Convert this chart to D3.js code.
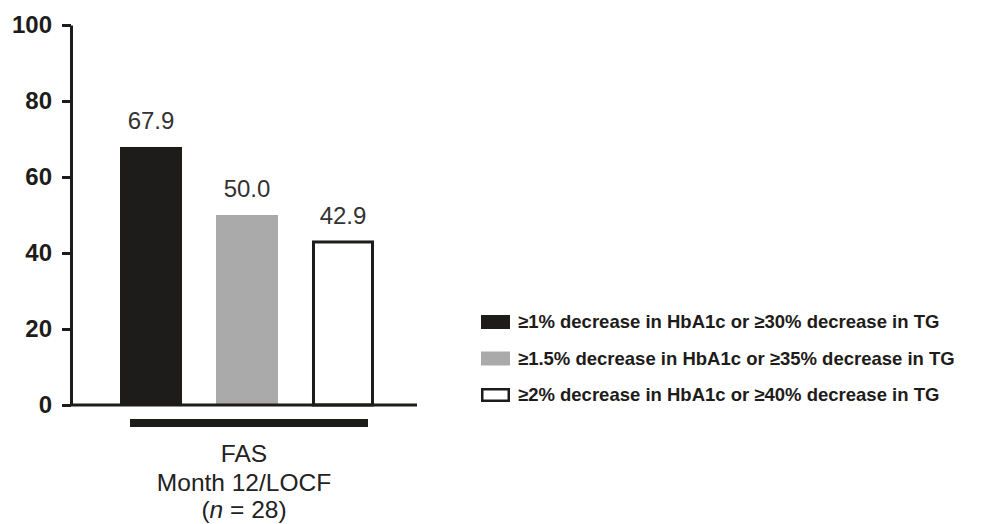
<!DOCTYPE html>
<html>

<head>
  <title>Responders</title>
  <script src="https://cdn.jsdelivr.net/npm/d3@7"></script>
  <style>
    body { margin: 0; background: #fff; }
  </style>
</head>

<body>
  <svg width="987" height="524" id="mainsvg"></svg>
  <script>
    // data
    const series = [
      '\u22651% decrease in HbA1c or \u226530% decrease in TG',
      '\u22651.5% decrease in HbA1c or \u226535% decrease in TG',
      '\u22652% decrease in HbA1c or \u226540% decrease in TG'
    ];
    const values = [67.9, 50.0, 42.9];
    const valueLabels = ['67.9', '50.0', '42.9'];
    const groupLines = ['FAS', 'Month 12/LOCF', '(n = 28)'];
    const yTicks = [0, 20, 40, 60, 80, 100];

    const fills = ['#1e1c1a', '#aaaaaa', '#ffffff'];
    const strokes = ['none', 'none', '#1e1c1a'];

    const svg = d3.select('#mainsvg');
    const font = '"Liberation Sans", Arial, sans-serif';

    const y = d3.scaleLinear().domain([0, 100]).range([405, 25]);
    const x = d3.scaleBand().domain(series).range([104, 390]).paddingInner(0.354).paddingOuter(0.1667);

    // y axis
    const yAxis = svg.append('g')
      .attr('transform', 'translate(71,0)')
      .call(d3.axisLeft(y).tickValues(yTicks).tickSize(9).tickPadding(10).tickSizeOuter(0));
    yAxis.select('.domain').attr('stroke', '#1e1c1a').attr('stroke-width', 3);
    yAxis.selectAll('.tick line').attr('stroke', '#1e1c1a').attr('stroke-width', 3);
    yAxis.selectAll('.tick text')
      .attr('font-family', font).attr('font-size', 24).attr('font-weight', 'bold')
      .attr('fill', '#1e1c1a');

    // bars
    svg.selectAll('.bar')
      .data(values)
      .join('rect')
      .attr('class', 'bar')
      .attr('x', (d, i) => x(series[i]) + (strokes[i] === 'none' ? 0 : 1.5))
      .attr('width', (d, i) => x.bandwidth() - (strokes[i] === 'none' ? 0 : 3))
      .attr('y', d => y(d))
      .attr('height', d => y(0) - y(d))
      .attr('fill', (d, i) => fills[i])
      .attr('stroke', (d, i) => strokes[i])
      .attr('stroke-width', 3);

    // x axis line
    svg.append('line')
      .attr('x1', 70).attr('x2', 417)
      .attr('y1', y(0)).attr('y2', y(0))
      .attr('stroke', '#1e1c1a').attr('stroke-width', 3);

    // value labels
    svg.selectAll('.val')
      .data(values)
      .join('text')
      .attr('class', 'val')
      .attr('x', (d, i) => x(series[i]) + x.bandwidth() / 2)
      .attr('y', d => y(d) - 18)
      .attr('text-anchor', 'middle')
      .attr('font-family', font).attr('font-size', 24)
      .attr('fill', '#333')
      .text((d, i) => valueLabels[i]);

    // group bracket
    svg.append('rect')
      .attr('x', 130).attr('y', 419)
      .attr('width', 238).attr('height', 8)
      .attr('fill', '#1e1c1a');

    const grp = svg.append('text')
      .attr('text-anchor', 'middle')
      .attr('font-family', font).attr('font-size', 24.5)
      .attr('fill', '#222');
    grp.append('tspan').attr('x', 244).attr('y', 462).text(groupLines[0]);
    grp.append('tspan').attr('x', 244).attr('y', 491).text(groupLines[1]);
    const last = grp.append('tspan').attr('x', 244).attr('y', 518);
    last.append('tspan').text('(');
    last.append('tspan').attr('font-style', 'italic').text('n');
    last.append('tspan').text(groupLines[2].slice(2));

    // legend
    const legend = svg.selectAll('.leg')
      .data(series)
      .join('g')
      .attr('class', 'leg')
      .attr('transform', (d, i) => `translate(481, ${322 + i * 36.5})`);
    legend.append('rect')
      .attr('x', (d, i) => strokes[i] === 'none' ? 0 : 1.25)
      .attr('y', (d, i) => strokes[i] === 'none' ? -7 : -5.75)
      .attr('width', (d, i) => strokes[i] === 'none' ? 29 : 26.5)
      .attr('height', (d, i) => strokes[i] === 'none' ? 14 : 11.5)
      .attr('fill', (d, i) => fills[i])
      .attr('stroke', (d, i) => strokes[i])
      .attr('stroke-width', 2.5);
    legend.append('text')
      .attr('x', 37)
      .attr('dy', '0.35em')
      .attr('font-family', font).attr('font-size', 18.5).attr('font-weight', 'bold')
      .attr('fill', '#1e1c1a')
      .text(d => d);
  </script>
</body>

</html>
